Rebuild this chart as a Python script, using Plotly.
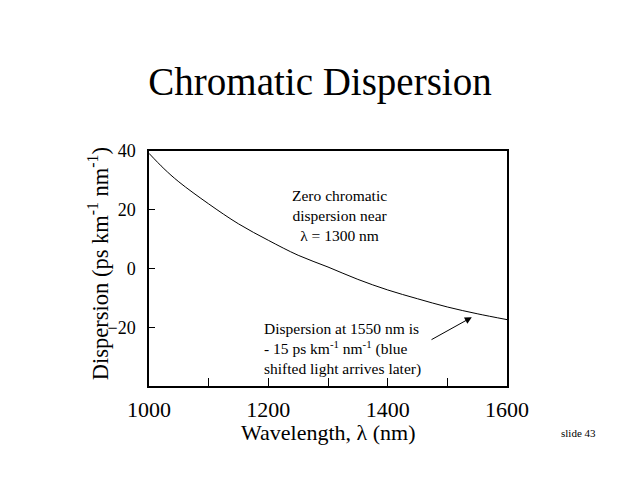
import plotly.graph_objects as go

# wavelength (nm) and dispersion (ps km^-1 nm^-1)
wavelength = [1000, 1025, 1050, 1100, 1150, 1200, 1250, 1300, 1350, 1400, 1450, 1500, 1550, 1600]
dispersion = [39.2, 34.0, 29.5, 22.0, 15.2, 9.6, 4.5, 0.5, -3.7, -7.3, -10.3, -13.1, -15.4, -17.4]

x_ticks = [1000, 1200, 1400, 1600]
y_ticks = [-20, 0, 20, 40]

serif = "Liberation Serif, Times New Roman, serif"

fig = go.Figure()
fig.add_trace(go.Scatter(x=wavelength, y=dispersion, mode="lines", line_shape="spline",
                         line=dict(color="black", width=1), showlegend=False,
                         hoverinfo="skip"))

fig.update_xaxes(
    range=[1000, 1600], tickvals=x_ticks, ticks="inside", ticklen=8,
    tickcolor="black", tickwidth=1, ticklabelstandoff=3,
    minor=dict(dtick=100, tick0=1000, ticks="inside", ticklen=8, tickcolor="black"),
    showline=True, linecolor="black", linewidth=1.5, mirror=True,
    showgrid=False, zeroline=False,
    tickfont=dict(family=serif, size=22, color="black"),
)
fig.update_yaxes(
    range=[-40, 40], tickvals=y_ticks, ticks="inside", ticklen=6,
    tickcolor="black", tickwidth=1, ticklabelstandoff=8,
    showline=True, linecolor="black", linewidth=1.5, mirror=True,
    showgrid=False, zeroline=False,
    tickfont=dict(family=serif, size=18, color="black"),
)

notes = [
    dict(x=1320, y=18, xref="x", yref="y", showarrow=False, align="center",
         xanchor="center", yanchor="middle",
         text="Zero chromatic<br>dispersion near<br>λ = 1300 nm",
         font=dict(family=serif, size=15.5, color="black")),
    dict(x=1190, y=-27.3, xref="x", yref="y", showarrow=False, align="left",
         xanchor="left", yanchor="middle",
         text="Dispersion at 1550 nm is<br>- 15 ps km<sup>-1</sup> nm<sup>-1</sup> (blue<br>shifted light arrives later)",
         font=dict(family=serif, size=15.5, color="black")),
    dict(x=1541, y=-16.6, ax=1471, ay=-24.5, xref="x", yref="y",
         axref="x", ayref="y", showarrow=True, arrowhead=2, arrowsize=1.4,
         arrowwidth=1, arrowcolor="black", text=""),
    dict(x=0.5, y=-0.196, xref="paper", yref="paper", showarrow=False,
         xanchor="center", yanchor="middle", text="Wavelength, λ (nm)",
         font=dict(family=serif, size=22, color="black")),
    dict(x=-0.142, y=0.519, xref="paper", yref="paper", showarrow=False,
         xanchor="center", yanchor="middle", textangle=-90,
         text="Dispersion (ps km<sup>-1</sup> nm<sup>-1</sup>)",
         font=dict(family=serif, size=22.5, color="black")),
    dict(x=1.2, y=-0.2, xref="paper", yref="paper", showarrow=False,
         xanchor="center", yanchor="middle", text="slide 43",
         font=dict(family=serif, size=11, color="black")),
]
for a in notes:
    fig.add_annotation(**a)

# page is drawn with an 8 px offset, so margins are shifted to compensate
fig.update_layout(
    width=640, height=480,
    margin=dict(l=141, r=141, t=143, b=102),
    paper_bgcolor="white", plot_bgcolor="white",
    title=dict(text="Chromatic Dispersion", x=0.4875, xref="container", xanchor="center",
               y=0.847, yref="container", yanchor="middle",
               font=dict(family=serif, size=39, color="black")),
)

fig.write_html("out.html")
